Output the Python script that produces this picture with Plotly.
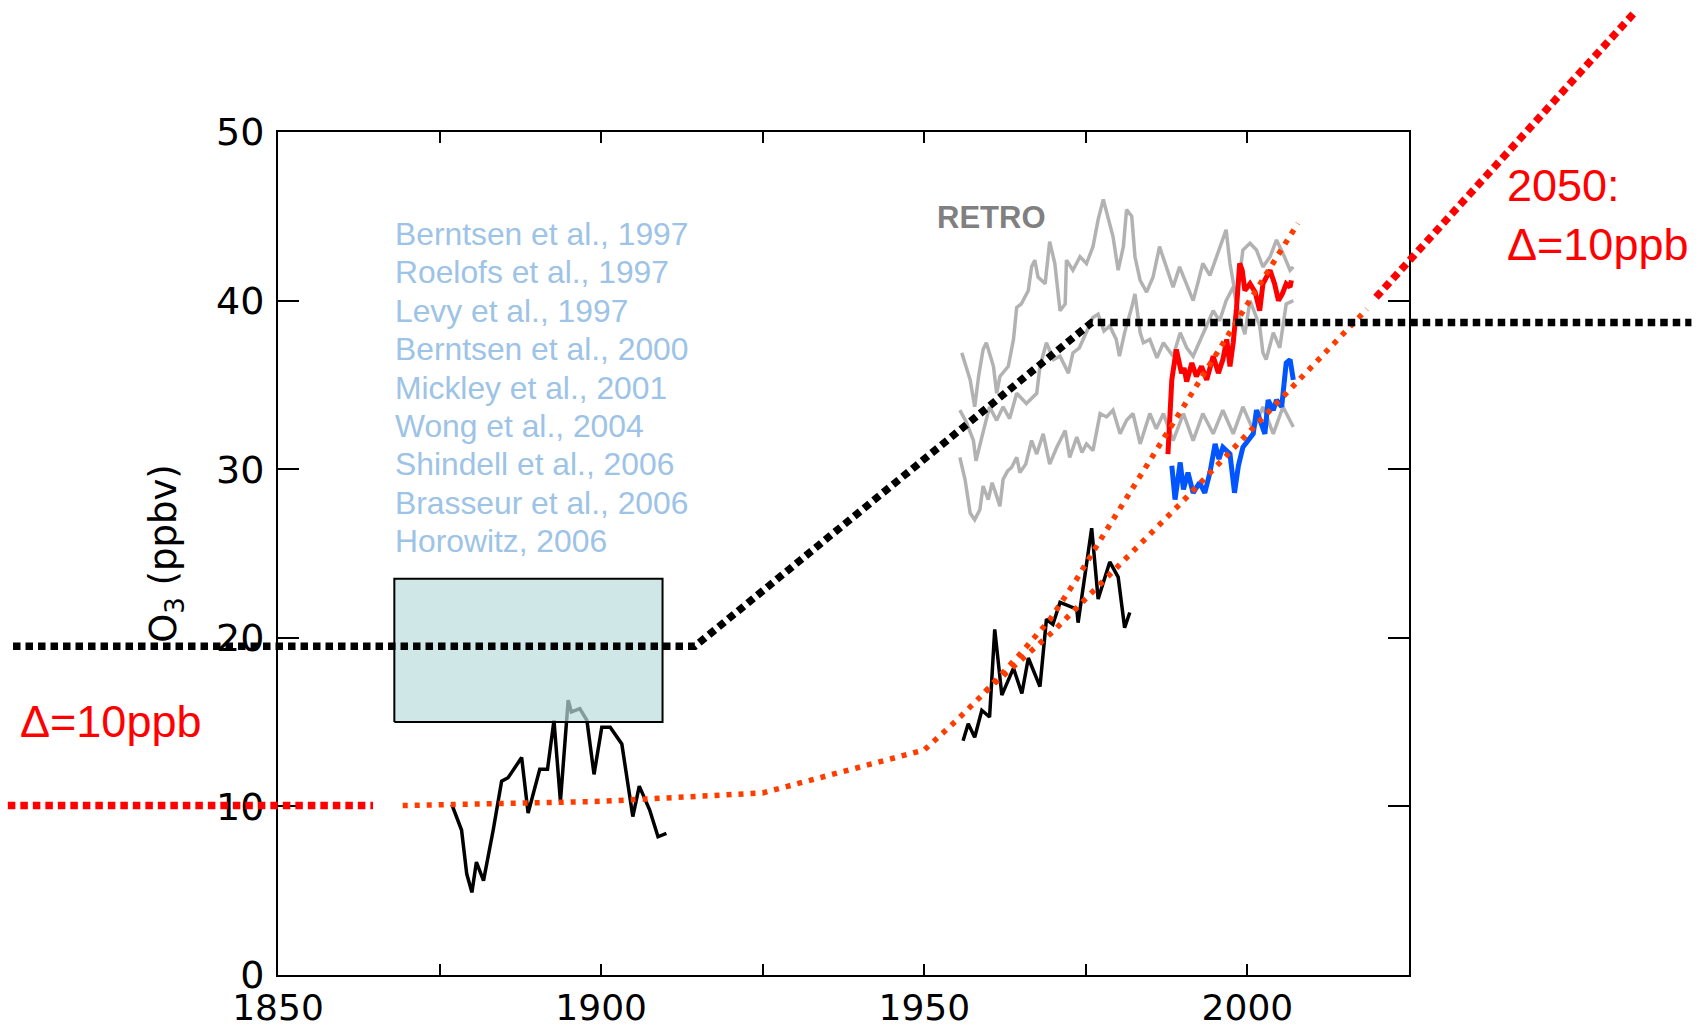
import plotly.graph_objects as go

# ---------------- data ----------------
# historical surface ozone observations (black)
hist1_years = [1876.9, 1878.4, 1879.2, 1880.0, 1880.7, 1881.8, 1883.3, 1884.6, 1885.6, 1887.7, 1888.7,
               1890.5, 1891.7, 1892.7, 1893.7, 1894.9, 1895.4, 1896.7, 1897.8, 1898.9, 1900.1, 1901.4,
               1903.2, 1904.9, 1905.9, 1907.5, 1908.8, 1910.1]
hist1_o3 = [10.1, 8.6, 6.0, 4.9, 6.7, 5.6, 8.6, 11.5, 11.7, 12.9, 9.6,
            12.2, 12.2, 15.1, 10.3, 16.3, 15.6, 15.8, 15.1, 11.9, 14.7, 14.7,
            13.7, 9.4, 11.2, 9.8, 8.2, 8.4]

hist2_years = [1956.0, 1956.8, 1957.8, 1958.9, 1960.1, 1960.9, 1962.0, 1963.8, 1965.1, 1966.1, 1967.9,
               1968.9, 1969.9, 1971.0, 1973.6, 1973.8, 1975.9, 1976.9, 1978.7, 1980.0, 1981.0, 1981.8]
hist2_o3 = [13.9, 14.9, 14.1, 15.7, 15.3, 20.5, 16.6, 18.2, 16.7, 18.8, 17.1,
            21.1, 20.8, 22.1, 21.7, 20.9, 26.5, 22.3, 24.5, 23.6, 20.6, 21.5]

# RETRO model series (grey)
retro_a_years = [1955.8, 1956.5, 1957.1, 1957.8, 1958.4, 1959.1, 1959.6, 1960.7, 1961.2, 1961.7, 1963.0,
                 1963.8, 1964.3, 1965.0, 1966.1, 1966.6, 1967.1, 1967.6, 1968.7, 1969.4, 1970.2, 1971.0,
                 1971.8, 1972.0, 1973.0, 1974.1, 1975.1, 1976.1, 1976.9, 1977.7, 1978.2, 1979.2, 1980.0,
                 1980.8, 1981.3, 1982.1, 1982.6, 1983.4, 1984.4, 1985.4, 1986.4, 1987.5, 1988.5, 1989.5,
                 1990.5, 1991.6, 1992.3, 1993.1, 1994.2, 1995.2, 1996.7, 1997.3, 1998.3, 1999.3, 2000.4,
                 2001.4, 2002.4, 2003.5, 2004.5, 2005.5, 2006.6, 2007.1]
retro_a_o3 = [36.9, 36.1, 35.3, 33.7, 35.5, 37.1, 37.5, 36.1, 34.5, 35.5, 36.1,
              37.7, 39.6, 39.8, 40.6, 42.0, 42.4, 41.4, 41.0, 43.5, 42.2, 39.4,
              39.8, 42.4, 41.8, 42.6, 42.2, 43.2, 44.8, 46.0, 45.2, 43.8, 41.8,
              43.2, 45.4, 45.0, 42.6, 41.2, 40.5, 41.4, 43.2, 42.0, 40.8, 42.0,
              41.0, 40.0, 41.0, 42.2, 41.5, 42.6, 44.2, 42.2, 40.0, 43.0, 43.4,
              43.0, 42.0, 42.6, 43.6, 42.8, 41.8, 42.0]

retro_b_years = [1955.5, 1956.5, 1957.6, 1958.0, 1959.1, 1960.1, 1961.2, 1962.2, 1963.2, 1964.3, 1965.8,
                 1967.4, 1967.9, 1968.9, 1970.0, 1971.0, 1972.3, 1973.0, 1974.0, 1975.1, 1976.1, 1976.9,
                 1977.8, 1978.7, 1979.7, 1980.2, 1981.0, 1982.1, 1982.6, 1983.4, 1983.9, 1984.9, 1986.0,
                 1987.0, 1988.5, 1989.6, 1990.6, 1991.6, 1992.7, 1993.7, 1994.7, 1995.7, 1996.7, 1997.8,
                 1998.8, 1999.6, 2000.4, 2001.9, 2002.4, 2002.9, 2004.0, 2005.0, 2006.0, 2007.1]
retro_b_o3 = [33.5, 32.8, 31.7, 30.5, 32.2, 33.7, 32.9, 33.7, 33.0, 34.5, 33.9,
              34.5, 36.1, 37.5, 36.5, 36.7, 35.7, 36.9, 37.2, 38.1, 39.0, 39.2,
              38.2, 38.5, 37.7, 36.7, 38.1, 39.6, 40.4, 38.1, 37.5, 37.7, 36.6,
              37.5, 36.7, 38.1, 37.2, 36.7, 37.7, 38.5, 39.4, 38.8, 40.0, 40.8,
              39.0, 38.0, 40.0, 38.5, 36.9, 36.5, 38.1, 37.2, 39.8, 40.0]

retro_c_years = [1955.5, 1956.3, 1957.1, 1957.8, 1958.6, 1959.1, 1959.9, 1960.5, 1961.2, 1961.7, 1962.2,
                 1962.9, 1963.5, 1964.3, 1964.8, 1965.7, 1966.6, 1967.4, 1968.4, 1969.4, 1970.5, 1971.8,
                 1972.5, 1973.6, 1974.4, 1975.1, 1976.1, 1977.2, 1978.2, 1979.2, 1980.3, 1981.3, 1982.3,
                 1983.4, 1984.9, 1985.9, 1987.0, 1988.5, 1990.1, 1991.6, 1993.1, 1994.7, 1996.2, 1997.8,
                 1999.3, 2000.9, 2002.4, 2004.0, 2005.5, 2007.1]
retro_c_o3 = [30.7, 29.4, 27.4, 27.0, 27.6, 29.0, 28.2, 29.2, 28.4, 27.8, 29.4,
              29.9, 30.1, 30.7, 29.8, 30.3, 31.7, 30.9, 32.1, 30.3, 31.3, 32.3,
              30.7, 31.9, 31.0, 31.5, 31.1, 33.3, 33.1, 33.5, 32.1, 32.9, 33.3,
              31.5, 33.3, 32.4, 33.3, 31.7, 33.3, 31.7, 33.3, 32.1, 33.5, 32.1,
              33.7, 32.3, 33.7, 32.1, 33.7, 32.5]

# recent observations (red, blue)
red_years = [1987.7, 1988.0, 1988.3, 1989.0, 1989.8, 1990.2, 1990.6, 1991.4, 1992.1, 1992.9, 1993.7,
             1994.7, 1995.5, 1996.2, 1996.8, 1997.3, 1997.8, 1998.3, 1998.8, 1999.2, 1999.6, 2000.4,
             2001.2, 2001.9, 2002.4, 2003.5, 2004.2, 2004.8, 2005.4, 2006.0, 2006.6, 2006.8]
red_o3 = [30.9, 33.3, 35.3, 37.1, 35.7, 36.0, 35.2, 36.3, 35.5, 36.1, 35.3,
          36.7, 35.7, 36.5, 37.7, 36.1, 37.5, 39.5, 42.2, 41.8, 40.6, 41.0,
          40.5, 39.4, 41.0, 41.8, 41.0, 40.0, 40.4, 41.0, 40.8, 41.2]

blue_years = [1988.3, 1988.8, 1989.6, 1990.1, 1990.8, 1991.6, 1992.6, 1993.4, 1994.2, 1995.0, 1995.6,
              1996.2, 1997.3, 1998.0, 1998.6, 1999.3, 2000.1, 2000.9, 2001.4, 2002.2, 2002.7, 2003.2,
              2004.0, 2004.5, 2005.3, 2006.0, 2006.6, 2007.1]
blue_o3 = [30.2, 28.2, 30.4, 28.8, 29.8, 28.6, 29.2, 28.6, 29.8, 31.5, 30.6,
           31.3, 30.9, 28.6, 30.2, 31.3, 31.7, 32.1, 33.5, 32.5, 32.1, 34.1,
           33.5, 34.1, 33.7, 36.3, 36.5, 35.3]

# trend curves (orange dotted)
trend_low_years = [1869.3, 1900.0, 1925.0, 1950.0, 1955.0, 1960.0, 1970.0, 1980.0, 1990.0, 2000.0, 2010.0, 2018.5]
trend_low_o3 = [10.05, 10.3, 10.8, 13.35, 15.1, 17.0, 20.4, 24.2, 28.1, 32.1, 36.1, 39.5]
trend_high_years = [1959.4, 1964.5, 1969.4, 1973.5, 1977.3, 1982.2, 1989.1, 1997.0, 2004.9, 2007.8]
trend_high_o3 = [16.8, 18.9, 21.06, 23.43, 25.84, 28.83, 33.11, 37.96, 42.76, 44.58]

# projection to 2050 (red squares) and pre-industrial baseline
proj_years = [2019.9, 2059.7]
proj_o3 = [40.2, 57.0]
base_red_years = [1808.2, 1864.7]
base_red_o3 = [10.05, 10.05]

# model pre-industrial estimate (black dotted)
model_years = [1809.0, 1914.5, 1975.9, 2068.7]
model_o3 = [19.5, 19.5, 38.7, 38.7]

# range of model estimates (shaded box)
box_years = [1868.0, 1909.5]
box_o3 = [15.0, 23.5]

references = ["Berntsen et al., 1997", "Roelofs et al., 1997", "Levy et al., 1997",
              "Berntsen et al., 2000", "Mickley et al., 2001", "Wong et al., 2004",
              "Shindell et al., 2006", "Brasseur et al., 2006", "Horowitz, 2006"]

x_tick_vals = [1850, 1875, 1900, 1925, 1950, 1975, 2000]
x_tick_text = ["1850", "", "1900", "", "1950", "", "2000"]
y_tick_vals = [0, 10, 20, 30, 40, 50]

# ---------------- layout geometry ----------------
W, H = 1704, 1027
FL, FR, FT, FB = 278, 1409, 132, 975      # frame in pixels
X0, X1, Y0, Y1 = 1850, 2025, 0, 50
ppx = (FR - FL) / (X1 - X0)
ppy = (FB - FT) / (Y1 - Y0)
x2range = [X0 - FL / ppx, X1 + (W - FR) / ppx]
y2range = [Y0 - (H - FB) / ppy, Y1 + FT / ppy]

def px(xp):
    return xp / W

def py(yp):
    return 1 - yp / H

fig = go.Figure()

def add_line(x, y, color, width, dash=None, name="", main=False):
    fig.add_trace(go.Scatter(x=x, y=y, mode="lines", name=name,
                             xaxis="x" if main else "x2", yaxis="y" if main else "y2",
                             line=dict(color=color, width=width, dash=dash),
                             hoverinfo="skip", showlegend=False))

grey = "rgba(170,170,170,0.9)"
add_line(retro_c_years, retro_c_o3, grey, 3.5, name="RETRO", main=True)
add_line(retro_b_years, retro_b_o3, grey, 3.5, name="RETRO", main=True)
add_line(retro_a_years, retro_a_o3, grey, 3.5, name="RETRO", main=True)

add_line(hist1_years, hist1_o3, "black", 3.5, name="observations 1876-1910")
add_line(hist2_years, hist2_o3, "black", 3.5, name="observations 1956-1982")

# shaded box
fig.add_trace(go.Scatter(
    x=[box_years[0], box_years[1], box_years[1], box_years[0], box_years[0]],
    y=[box_o3[0], box_o3[0], box_o3[1], box_o3[1], box_o3[0]],
    mode="lines", fill="toself", fillcolor="rgba(186,221,221,0.7)",
    line=dict(color="black", width=2), xaxis="x2", yaxis="y2",
    hoverinfo="skip", showlegend=False))

add_line(red_years, red_o3, "#ff0000", 5, name="obs red")
add_line(blue_years, blue_o3, "#0055ff", 5, name="obs blue")

orange = "#ff3c00"
add_line(trend_low_years, trend_low_o3, orange, 5.5, dash="5px,7px", name="trend")
add_line(trend_high_years, trend_high_o3, orange, 5.5, dash="5px,7px", name="trend")

add_line(proj_years, proj_o3, "#ff0000", 7.5, dash="7.5px,5px", name="projection")
add_line(base_red_years, base_red_o3, "#ff0000", 7.5, dash="7.5px,5px", name="baseline")
add_line(model_years, model_o3, "black", 7.5, dash="7.5px,5px", name="models")

annotations = []
ref_font = dict(family="Liberation Sans, Arial, sans-serif", size=31.8, color="#9dc3e6")
for i, ref in enumerate(references):
    annotations.append(dict(text=ref, xref="paper", yref="paper", x=px(393), y=py(234 + 38.4 * i),
                            xanchor="left", yanchor="middle", showarrow=False, font=ref_font))
annotations.append(dict(text="<b>RETRO</b>", xref="paper", yref="paper", x=px(935), y=py(218),
                        xanchor="left", yanchor="middle", showarrow=False,
                        font=dict(family="Liberation Sans, Arial, sans-serif", size=31, color="#808080")))
annotations.append(dict(text="Δ=10ppb", xref="paper", yref="paper", x=px(18), y=py(721),
                        xanchor="left", yanchor="middle", showarrow=False,
                        font=dict(family="Liberation Sans, Arial, sans-serif", size=45, color="#ff0000")))
annotations.append(dict(text="2050:<br>Δ=10ppb", xref="paper", yref="paper", x=px(1505), y=py(215),
                        xanchor="left", yanchor="middle", align="left", showarrow=False,
                        font=dict(family="Liberation Sans, Arial, sans-serif", size=45, color="#ff0000")))

tick_font = dict(family="DejaVu Sans, sans-serif", size=38, color="black")
xtick_font = dict(family="DejaVu Sans, sans-serif", size=36, color="black")
fig.update_layout(
    template="none",
    width=W, height=H,
    margin=dict(l=0, r=0, t=0, b=0, autoexpand=False),
    paper_bgcolor="white", plot_bgcolor="rgba(0,0,0,0)",
    showlegend=False,
    xaxis=dict(domain=[px(FL), px(FR)], range=[X0, X1], anchor="y", automargin=False,
               tickmode="array", tickvals=x_tick_vals, ticktext=x_tick_text,
               ticks="inside", ticklen=11, tickwidth=2, tickcolor="black",
               showline=True, linecolor="black", linewidth=2, mirror="ticks",
               showgrid=False, zeroline=False, tickfont=xtick_font, ticklabelstandoff=0,
               fixedrange=True),
    yaxis=dict(domain=[py(FB), py(FT)], range=[Y0, Y1], anchor="x", automargin=False,
               tickmode="array", tickvals=y_tick_vals,
               ticks="inside", ticklen=21, tickwidth=2, tickcolor="black",
               showline=True, linecolor="black", linewidth=2, mirror="ticks",
               showgrid=False, zeroline=False, tickfont=tick_font, ticklabelstandoff=4,
               fixedrange=True,
               title=dict(text="O<sub>3</sub> (ppbv)", standoff=28,
                          font=dict(family="DejaVu Sans, sans-serif", size=37, color="black"))),
    xaxis2=dict(domain=[0, 1], range=x2range, anchor="y2", visible=False, fixedrange=True,
                automargin=False),
    yaxis2=dict(domain=[0, 1], range=y2range, anchor="x2", visible=False, fixedrange=True,
                automargin=False),
    annotations=annotations,
)

fig.write_html("out.html", config={"displayModeBar": False},
               post_script="document.body.style.margin='0px';document.body.style.overflow='hidden';")
